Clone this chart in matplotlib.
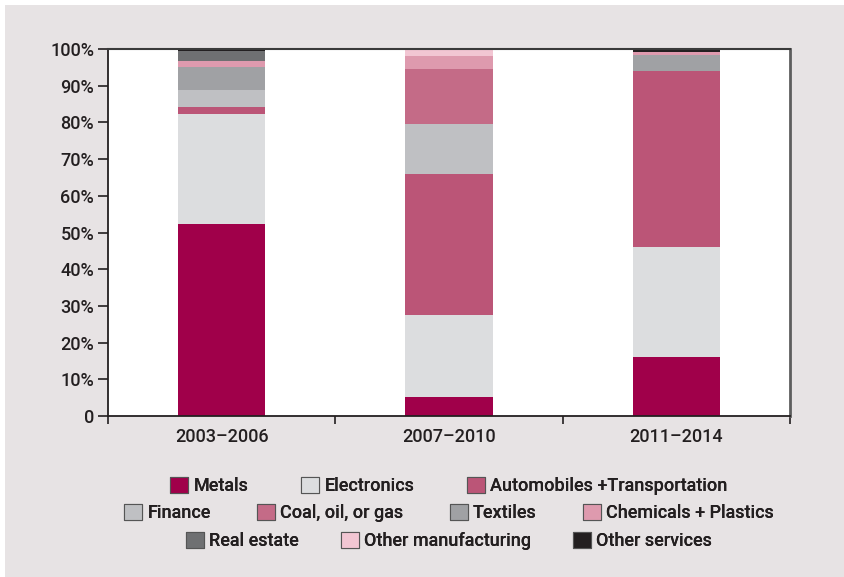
#! /usr/bin/env python3
import numpy as np
import matplotlib
matplotlib.use("Agg")
import matplotlib.pyplot as plt
from matplotlib.patches import Patch, Rectangle

# data (% share)
periods = ["2003\u20132006", "2007\u20132010", "2011\u20132014"]
sectors = ["Metals", "Electronics", "Automobiles +Transportation", "Finance",
           "Coal, oil, or gas", "Textiles", "Chemicals + Plastics",
           "Real estate", "Other manufacturing", "Other services"]
metals = [52.3, 5.2, 16.1]
electronics = [30.0, 22.3, 29.9]
automobiles = [1.9, 38.5, 48.0]
finance = [4.5, 13.6, 0.0]
coal = [0.0, 15.0, 0.0]
textiles = [6.4, 0.0, 4.3]
chemicals = [1.6, 3.5, 0.9]
real_estate = [2.7, 0.0, 0.0]
other_manuf = [0.0, 1.9, 0.0]
other_services = [0.6, 0.0, 0.8]
yticks = [0, 10, 20, 30, 40, 50, 60, 70, 80, 90, 100]
ytick_labels = ["0", "10%", "20%", "30%", "40%", "50%", "60%", "70%", "80%", "90%", "100%"]

colors = ["#a0004a", "#dcdddf", "#bb5577", "#bfc0c3", "#c46b87",
          "#a0a1a4", "#de9aae", "#6f7072", "#f2c6d3", "#231f20"]

plt.rcParams['font.family'] = ['Roboto', 'DejaVu Sans']
plt.rcParams['font.weight'] = 'medium'
TXT = "#231f20"
BG = "#e7e3e4"


def main():
    fig = plt.figure(figsize=(8.45, 5.77), dpi=100, facecolor=BG)
    # thin white margin on the left and top edges
    fig.patches.append(Rectangle((0, 0), 5 / 845, 1, transform=fig.transFigure,
                                 facecolor="white", edgecolor="none", zorder=-10))
    fig.patches.append(Rectangle((0, 1 - 5 / 577), 1, 5 / 577, transform=fig.transFigure,
                                 facecolor="white", edgecolor="none", zorder=-10))
    ax = fig.add_axes([108 / 845, 1 - 416 / 577, (790 - 108) / 845, (416 - 49) / 577])
    ax.set_facecolor("white")

    series = [metals, electronics, automobiles, finance, coal, textiles,
              chemicals, real_estate, other_manuf, other_services]
    x = np.arange(len(periods))
    bottom = np.zeros(len(periods))
    for vals, c in zip(series, colors):
        ax.bar(x, vals, 0.383, bottom=bottom, color=c, linewidth=0, zorder=2)
        bottom += np.array(vals)

    ax.set_xlim(-0.5, 2.5)
    ax.set_ylim(0, 100)
    ax.set_xticks([-0.5, 0.5, 1.5, 2.5])
    ax.set_xticklabels([])
    ax.set_xticks(x, minor=True)
    ax.set_xticklabels(periods, minor=True, fontsize=13, color=TXT)
    ax.tick_params(axis="x", which="major", length=6, width=1.2, color=TXT)
    ax.tick_params(axis="x", which="minor", length=0, pad=9)
    ax.set_yticks(yticks)
    ax.set_yticklabels(ytick_labels, fontsize=13, color=TXT)
    ax.tick_params(axis="y", length=7, width=1.2, color=TXT, pad=3)

    for s in ["left", "bottom"]:
        ax.spines[s].set_color(TXT)
        ax.spines[s].set_linewidth(1.3)
    ax.spines["top"].set_color("#3a3a3a")
    ax.spines["top"].set_linewidth(1.5)
    ax.spines["right"].set_color("#5e5e5e")
    ax.spines["right"].set_linewidth(2)
    ax.spines["top"].set_zorder(5)

    handles = [Patch(facecolor=c, edgecolor="#555555", linewidth=0.8) for c in colors]
    rows = [(0, 3, 486, 2.9), (3, 7, 513, 2.55), (7, 10, 541, 2.3)]
    for a, b, ypix, sp in rows:
        leg = fig.legend(handles[a:b], sectors[a:b], ncol=b - a, loc="center",
                         bbox_to_anchor=(449 / 845, 1 - ypix / 577), frameon=False,
                         fontsize=13, handlelength=1.0, handleheight=1.0,
                         handletextpad=0.3, columnspacing=sp, borderpad=0)
        for t in leg.get_texts():
            t.set_color(TXT)
        fig.add_artist(leg)

    fig.savefig("out.png", dpi=100, facecolor=fig.get_facecolor())


if __name__ == '__main__':
    main()
